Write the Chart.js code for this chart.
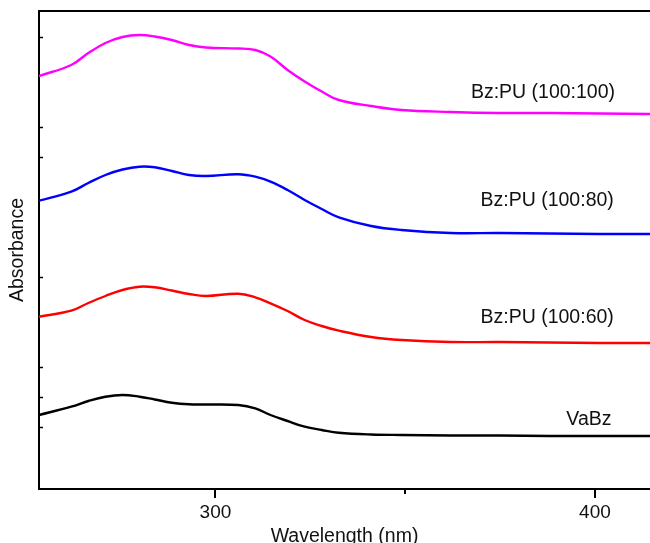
<!DOCTYPE html>
<html><head><meta charset="utf-8">
<script src="https://cdn.jsdelivr.net/npm/chart.js@4.4.0/dist/chart.umd.min.js"></script>
<style>html,body{margin:0;padding:0;background:#fff;overflow:hidden;}</style>
</head><body>
<canvas id="c" width="650" height="543"></canvas>
<script>
// Wavelength (nm) sample points
const wavelength = [253.5, 262, 266.5, 271, 275.5, 280, 284, 288.5, 293, 297.5, 306, 310.5, 314.5, 319, 323.5, 328, 332.5, 341, 349, 362, 375, 388, 401, 414.5];
// Absorbance (arbitrary, offset) per sample
const vaBz    = [0.74, 0.823, 0.88, 0.923, 0.94, 0.923, 0.895, 0.863, 0.847, 0.845, 0.84, 0.807, 0.74, 0.68, 0.623, 0.59, 0.563, 0.545, 0.54, 0.535, 0.535, 0.53, 0.53, 0.53];
const bzPu60  = [1.723, 1.783, 1.86, 1.93, 1.99, 2.023, 2.017, 1.985, 1.95, 1.93, 1.953, 1.917, 1.857, 1.78, 1.69, 1.63, 1.583, 1.52, 1.49, 1.47, 1.47, 1.465, 1.46, 1.46];
const bzPu80  = [2.883, 2.973, 3.06, 3.14, 3.195, 3.223, 3.217, 3.18, 3.14, 3.13, 3.147, 3.123, 3.073, 2.99, 2.89, 2.80, 2.717, 2.63, 2.59, 2.56, 2.56, 2.555, 2.55, 2.55];
const bzPu100 = [4.13, 4.24, 4.36, 4.46, 4.52, 4.54, 4.525, 4.49, 4.44, 4.415, 4.405, 4.39, 4.325, 4.19, 4.075, 3.975, 3.89, 3.83, 3.79, 3.77, 3.76, 3.76, 3.755, 3.75];
const seriesNames = ['VaBz', 'Bz:PU (100:60)', 'Bz:PU (100:80)', 'Bz:PU (100:100)'];
const xTickValues = [300, 350, 400];
const xTickLabels = ['300', '', '400'];
const yTickValues = [0.62, 0.92, 1.22, 2.12, 3.32, 3.62, 4.52];

const FONT = '"Liberation Sans", Arial, sans-serif';
const colors = ['#000000', '#ff0000', '#0000ff', '#ff00ff'];
const seriesValues = [vaBz, bzPu60, bzPu80, bzPu100];
// label anchors in data coordinates [nm, absorbance]
const labelAnchors = [[398.4, 0.69], [387.4, 1.71], [387.4, 2.88], [386.3, 3.96]];

const datasets = seriesValues.map((vals, i) => ({
  label: seriesNames[i],
  data: wavelength.map((w, j) => ({x: w, y: vals[j]})),
  borderColor: colors[i],
  borderWidth: 2.4,
  pointRadius: 0,
  fill: false,
  tension: 0.4,
  xAxisID: 'x', yAxisID: 'y'
}));

const decor = {
  id: 'decor',
  afterDraw(chart) {
    const ctx = chart.ctx, ca = chart.chartArea;
    const xs = chart.scales.x, ys = chart.scales.y;
    ctx.save();
    ctx.strokeStyle = '#000'; ctx.lineWidth = 1.5;
    yTickValues.forEach(v => {
      const py = Math.round(ys.getPixelForValue(v)) + 0.5;
      ctx.beginPath(); ctx.moveTo(ca.left, py); ctx.lineTo(ca.left + 4, py); ctx.stroke();
    });
    // short minor tick for unlabelled x ticks
    ctx.lineWidth = 2;
    xTickValues.forEach((v, k) => {
      if (xTickLabels[k] !== '') return;
      const px = Math.round(xs.getPixelForValue(v));
      ctx.beginPath(); ctx.moveTo(px, ca.bottom); ctx.lineTo(px, ca.bottom + 5); ctx.stroke();
    });
    ctx.fillStyle = '#111';
    ctx.font = '19.5px ' + FONT;
    ctx.textAlign = 'center'; ctx.textBaseline = 'middle';
    labelAnchors.forEach((a, i) => {
      ctx.fillText(seriesNames[i], xs.getPixelForValue(a[0]), ys.getPixelForValue(a[1]));
    });
    ctx.restore();
  }
};

new Chart(document.getElementById('c'), {
  type: 'line',
  data: {datasets},
  options: {
    responsive: false,
    animation: false,
    layout: {padding: 0},
    plugins: {legend: {display: false}, tooltip: {enabled: false}},
    scales: {
      x: {
        type: 'linear', position: 'bottom', min: 253.5, max: 414.5,
        border: {display: true, color: '#000', width: 2},
        grid: {
          display: true, drawOnChartArea: false, drawTicks: true, tickLength: 9, lineWidth: 2,
          color: (c) => (c.tick && xTickLabels[xTickValues.indexOf(c.tick.value)] === '') ? 'rgba(0,0,0,0)' : '#000'
        },
        afterBuildTicks(s) { s.ticks = xTickValues.map(v => ({value: v})); },
        ticks: {
          autoSkip: false, maxRotation: 0, padding: 3, color: '#111',
          font: {family: FONT, size: 19},
          callback(v) { const k = xTickValues.indexOf(v); return k >= 0 ? xTickLabels[k] : ''; }
        },
        title: {display: true, text: 'Wavelength (nm)', color: '#111', font: {family: FONT, size: 19.5}, padding: {top: 0, bottom: -5}},
        afterFit(s) { s.height = 54; }
      },
      xTop: {
        type: 'linear', position: 'top', min: 0, max: 1,
        border: {display: true, color: '#000', width: 2},
        grid: {display: true, drawOnChartArea: false, drawTicks: false},
        ticks: {display: false},
        afterFit(s) { s.height = 11; }
      },
      y: {
        type: 'linear', position: 'left', min: 0, max: 4.78,
        border: {display: true, color: '#000', width: 2},
        grid: {display: true, drawOnChartArea: false, drawTicks: false},
        ticks: {display: false},
        title: {display: true, text: 'Absorbance', color: '#111', font: {family: FONT, size: 19.5}, padding: {top: 6, bottom: 0}},
        afterFit(s) { s.width = 39; }
      }
    }
  },
  plugins: [decor]
});
</script>
</body></html>
